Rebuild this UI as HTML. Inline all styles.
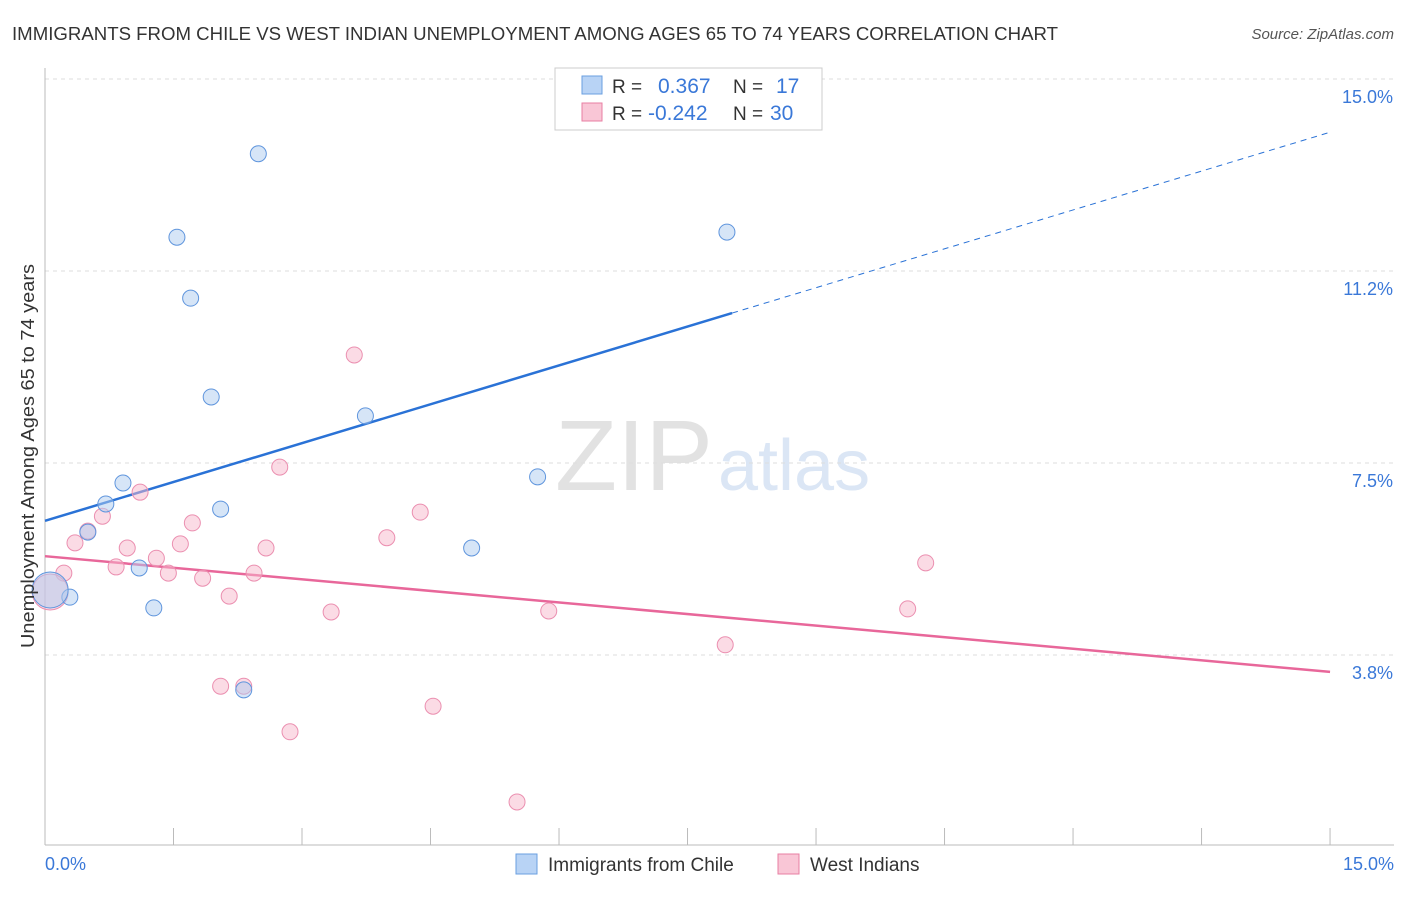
<!DOCTYPE html>
<html><head><meta charset="utf-8"><style>
body{margin:0;background:#fff;font-family:"Liberation Sans",sans-serif;}
svg text{font-family:"Liberation Sans",sans-serif;}
</style></head><body>
<svg id="chart" width="1406" height="892" xmlns="http://www.w3.org/2000/svg">
<text x="12" y="40" font-size="18" fill="#333" textLength="1046" lengthAdjust="spacingAndGlyphs">IMMIGRANTS FROM CHILE VS WEST INDIAN UNEMPLOYMENT AMONG AGES 65 TO 74 YEARS CORRELATION CHART</text>
<text x="1394" y="39" font-size="15" fill="#555" text-anchor="end" font-style="italic">Source: ZipAtlas.com</text>
<text x="555" y="490" font-size="100" fill="#e2e2e2" font-family="Liberation Serif" textLength="158" lengthAdjust="spacingAndGlyphs">ZIP</text>
<text x="718" y="490" font-size="72" fill="#dbe6f5">atlas</text>
<g id="grid"></g><g id="axes"></g><g id="lines"></g><g id="pts"></g>
<text transform="translate(34,456) rotate(-90)" font-size="18" fill="#333" text-anchor="middle" textLength="384" lengthAdjust="spacingAndGlyphs">Unemployment Among Ages 65 to 74 years</text>
<text x="45" y="870" font-size="18" fill="#3a78d8">0.0%</text>
<text x="1394" y="870" font-size="18" fill="#3a78d8" text-anchor="end">15.0%</text>
<g>
<rect x="555" y="68" width="267" height="62" fill="#fff" stroke="#ccc"/>
<rect x="582" y="76" width="20" height="18" fill="#b8d3f5" stroke="#6a9fe0"/>
<rect x="582" y="103" width="20" height="18" fill="#f9c6d6" stroke="#e87fa3"/>
<text x="612" y="93" font-size="19" fill="#333">R =</text><text x="658" y="93" font-size="21" fill="#3a78d8">0.367</text>
<text x="733" y="93" font-size="19" fill="#333">N =</text><text x="776" y="93" font-size="21" fill="#3a78d8">17</text>
<text x="612" y="120" font-size="19" fill="#333">R =</text><text x="648" y="120" font-size="21" fill="#3a78d8">-0.242</text>
<text x="733" y="120" font-size="19" fill="#333">N =</text><text x="770" y="120" font-size="21" fill="#3a78d8">30</text>
</g>
<g>
<rect x="516" y="854" width="21" height="20" fill="#b8d3f5" stroke="#6a9fe0"/>
<text x="548" y="871" font-size="19" fill="#333">Immigrants from Chile</text>
<rect x="778" y="854" width="21" height="20" fill="#f9c6d6" stroke="#e87fa3"/>
<text x="810" y="871" font-size="19" fill="#333">West Indians</text>
</g>
</svg>
<script>
const yTicks=[3.75,7.5,11.25,15];
const yTickLabels=["3.8%","7.5%","11.2%","15.0%"];
const chileX=[2.49,1.54,1.70,7.96,1.94,3.74,5.75,0.91,0.71,2.05,0.50,4.98,1.10,0.29,1.27,2.32,0.06];
const chileY=[13.54,11.91,10.72,12.01,8.79,8.42,7.23,7.11,6.70,6.60,6.15,5.84,5.45,4.88,4.67,3.07,5.02];
const wiX=[3.61,2.74,1.11,0.67,1.72,0.50,0.35,0.96,1.58,2.58,3.99,4.38,1.30,0.83,1.44,1.84,2.44,0.22,2.15,3.34,5.88,10.07,10.28,7.94,2.05,2.32,4.53,2.86,5.51,0.06];
const wiY=[9.61,7.42,6.93,6.46,6.33,6.17,5.94,5.84,5.92,5.84,6.04,6.54,5.64,5.47,5.35,5.25,5.35,5.35,4.90,4.59,4.61,4.65,5.55,3.95,3.14,3.14,2.75,2.25,0.88,4.98];
const chileTrend=[6.37,13.96];
const wiTrend=[5.68,3.42];
const NS="http://www.w3.org/2000/svg";
const X=v=>45+v*85.67, Y=v=>847-v*51.2;
function mk(p,t,a){const e=document.createElementNS(NS,t);for(const k in a)e.setAttribute(k,a[k]);document.getElementById(p).appendChild(e);return e;}
yTicks.forEach((t,i)=>{
 const g=mk('grid','line',{x1:45,x2:1394,y1:Y(t),y2:Y(t),stroke:'#ddd','stroke-dasharray':'4,4'});
 
 
 const l=mk('grid','text',{x:1393,y:Y(t)+24,'font-size':18,fill:'#3a78d8','text-anchor':'end'});
 l.textContent=yTickLabels[i];
 
 
});
mk('axes','line',{x1:45,x2:45,y1:68,y2:845,stroke:'#bbb'});
mk('axes','line',{x1:45,x2:1394,y1:845,y2:845,stroke:'#bbb'});
for(let i=1;i<=10;i++){const t=mk('axes','line',{x1:X(i*1.5),x2:X(i*1.5),y1:828,y2:845,stroke:'#bbb'});
 
 }
const sx=8.02;
const b1=mk('lines','line',{x1:X(0),y1:Y(chileTrend[0]),x2:X(sx),y2:Y(chileTrend[0]+(chileTrend[1]-chileTrend[0])*sx/15),stroke:'#2a72d6','stroke-width':2.5});


const b2=mk('lines','line',{x1:X(sx),y1:Y(chileTrend[0]+(chileTrend[1]-chileTrend[0])*sx/15),x2:X(15),y2:Y(chileTrend[1]),stroke:'#2a72d6','stroke-width':1,'stroke-dasharray':'6,5'});


const p1=mk('lines','line',{x1:X(0),y1:Y(wiTrend[0]),x2:X(15),y2:Y(wiTrend[1]),stroke:'#e8679a','stroke-width':2.5});


wiX.forEach((x,i)=>{const c=mk('pts','circle',{cx:X(x),cy:Y(wiY[i]),r:i==wiX.length-1?18:8,fill:'rgba(247,184,204,0.5)',stroke:'#eb8fb0','stroke-width':1});
 
 });
chileX.forEach((x,i)=>{const c=mk('pts','circle',{cx:X(x),cy:Y(chileY[i]),r:i==chileX.length-1?18:8,fill:'rgba(174,203,240,0.5)',stroke:'#5f95dd','stroke-width':1});
 
 });
</script>
</body></html>
